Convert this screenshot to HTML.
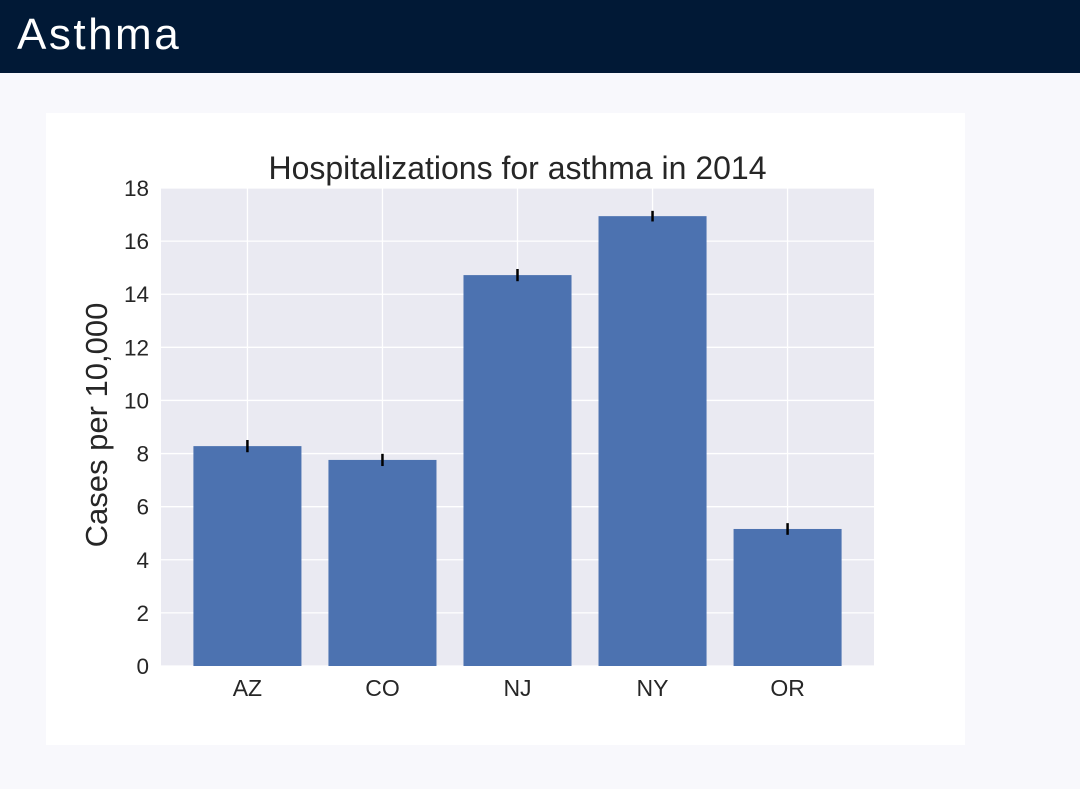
<!DOCTYPE html>
<html><head><meta charset="utf-8"><style>
body{margin:0;width:1080px;height:789px;background:#f8f8fc;overflow:hidden;font-family:"Liberation Sans",sans-serif;position:relative}
#hdr{position:absolute;left:0;top:0;width:1080px;height:73px;background:#011936}
#hdr span{position:absolute;left:17px;top:10px;color:#fff;font-size:44px;letter-spacing:2.5px}
#card{position:absolute;left:46px;top:113px;width:919px;height:632px;background:#fff}
svg{position:absolute;left:0;top:0}
</style></head><body>
<div id="hdr"><span>Asthma</span></div>
<div id="card"></div>
<svg id="chart" width="1080" height="789"></svg>
<script>
const categories=["AZ","CO","NJ","NY","OR"];
const values=[8.28,7.76,14.72,16.94,5.16];
const errors=[0.23,0.23,0.23,0.2,0.22];
const yTicks=[0,2,4,6,8,10,12,14,16,18];
const NS="http://www.w3.org/2000/svg";
const svg=document.getElementById('chart');
const L=161,R=874,T=188,B=666,ymax=18;
const y=v=>B-(v/ymax)*(B-T);
const xmin=-0.64,xmax=categories.length-1+0.64;
const x=i=>L+(i-xmin)/(xmax-xmin)*(R-L);
const step=x(1)-x(0);
function el(t,a){const e=document.createElementNS(NS,t);for(const k in a)e.setAttribute(k,a[k]);svg.appendChild(e);return e;}
const bg=el('rect',{x:L,y:T,width:R-L,height:B-T,fill:'#eaeaf2'});


yTicks.forEach(t=>{
 const g=el('line',{x1:L,x2:R,y1:y(t),y2:y(t),stroke:'#fff','stroke-width':1.3});
 
 
 const tx=el('text',{x:L-12,y:y(t)+8,'text-anchor':'end','font-size':22.5,fill:'#262626'});
 tx.textContent=t;
 
 
});
categories.forEach((c,i)=>{
 const g=el('line',{x1:x(i),x2:x(i),y1:T,y2:B,stroke:'#fff','stroke-width':1.3});
 
 
});
const bw=step*0.8;
categories.forEach((c,i)=>{
 const b=el('rect',{x:x(i)-bw/2,y:y(values[i]),width:bw,height:B-y(values[i]),fill:'#4c72b0'});
 
 
 const e=el('line',{x1:x(i),x2:x(i),y1:y(values[i]+errors[i]),y2:y(values[i]-errors[i]),stroke:'#000','stroke-width':2.5});
 
 
 const tx=el('text',{x:x(i),y:B+30,'text-anchor':'middle','font-size':23,fill:'#262626'});
 tx.textContent=c;
 
 
});
const ti=el('text',{x:(L+R)/2,y:179,'text-anchor':'middle','font-size':32,fill:'#262626'});
ti.textContent='Hospitalizations for asthma in 2014';


const yl=el('text',{x:0,y:0,'text-anchor':'middle','font-size':31,fill:'#262626',transform:`translate(107,${(T+B)/2-2}) rotate(-90)`});
yl.textContent='Cases per 10,000';


</script>
</body></html>
